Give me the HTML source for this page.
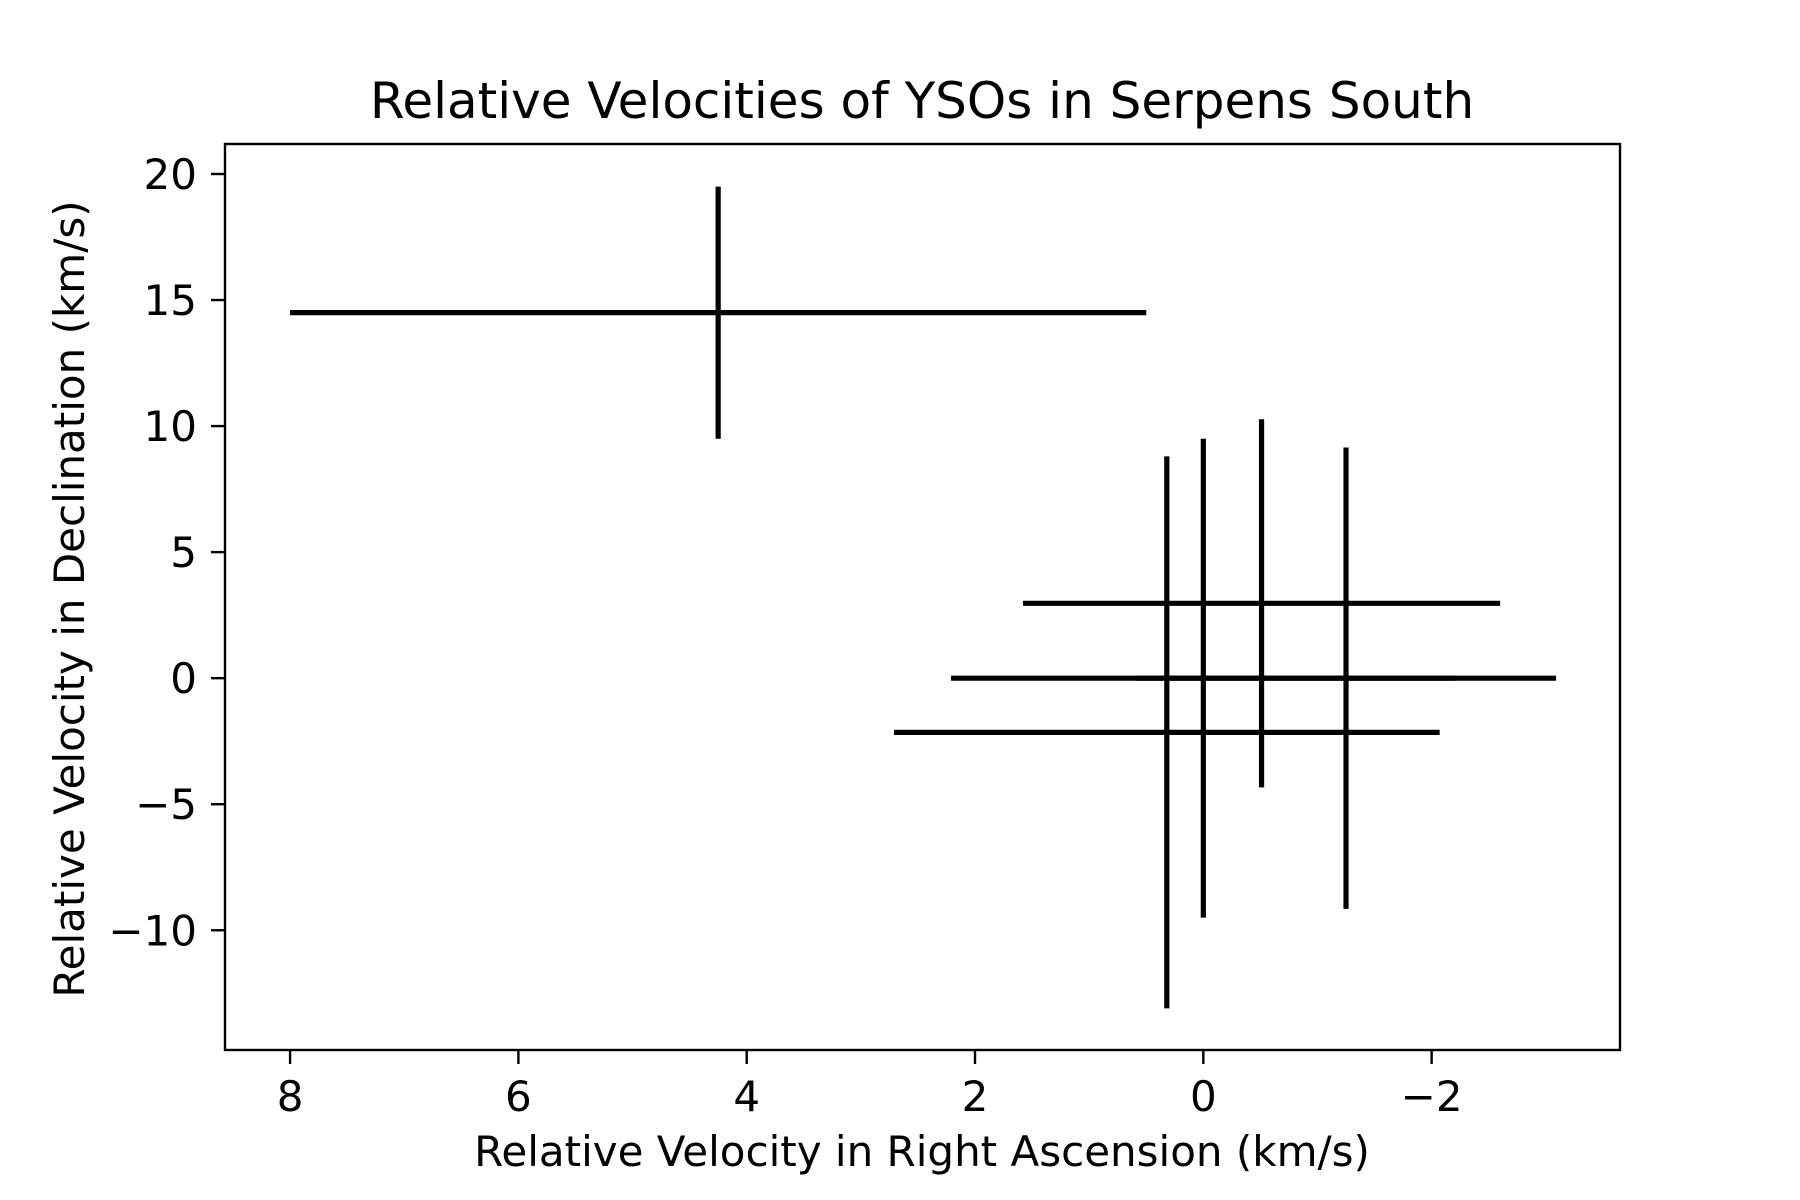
<!DOCTYPE html>
<html><head><meta charset="utf-8"><style>html,body{margin:0;padding:0;background:#fff}svg{display:block}text{font-family:"DejaVu Sans","Liberation Sans",sans-serif;fill:#000}</style></head>
<body>
<svg id="chart" width="1800" height="1200" viewBox="0 0 1800 1200" xmlns="http://www.w3.org/2000/svg">
<rect width="1800" height="1200" fill="#fff"/>
<text x="922" y="118" font-size="50" text-anchor="middle">Relative Velocities of YSOs in Serpens South</text>
<text x="922" y="1166" font-size="42" text-anchor="middle">Relative Velocity in Right Ascension (km/s)</text>
<text x="0" y="0" font-size="42" text-anchor="middle" transform="translate(84,599) rotate(-90)">Relative Velocity in Declination (km/s)</text>
<g id="marks"></g>
<g id="axes"></g>
</svg>
<script>
const xValues = [4.25, 0.32, 0, -0.51, -1.25];
const yValues = [14.5, -2.15, 0, 2.97, 0];
const xErrors = [3.75, 2.39, 2.21, 2.09, 1.84];
const yErrors = [5, 10.95, 9.5, 7.3, 9.15];
const xTicks = [8, 6, 4, 2, 0, -2];
const yTicks = [20, 15, 10, 5, 0, -5, -10];
const tickLabel = v => v < 0 ? '\u2212' + Math.abs(v) : String(v);

const L = 225, R = 1620, T = 144, B = 1050;
const xMin = 8.57, xMax = -3.65, yMin = -14.75, yMax = 21.19;
const sx = v => L + (v - xMin) / (xMax - xMin) * (R - L);
const sy = v => B - (v - yMin) / (yMax - yMin) * (B - T);
const NS = 'http://www.w3.org/2000/svg';
function mk(tag, attrs, parent) {
  const e = document.createElementNS(NS, tag);
  for (const k in attrs) e.setAttribute(k, attrs[k]);
  parent.appendChild(e);
  return e;
}
const marks = document.getElementById('marks');
const axes = document.getElementById('axes');
xValues.forEach((x, i) => {
  const y = yValues[i];
  const h = mk('line', {x1: sx(x - xErrors[i]), x2: sx(x + xErrors[i]), y1: sy(y), y2: sy(y), stroke: '#000', 'stroke-width': 5.2}, marks);
  
  
  const v = mk('line', {x1: sx(x), x2: sx(x), y1: sy(y - yErrors[i]), y2: sy(y + yErrors[i]), stroke: '#000', 'stroke-width': 5.2}, marks);
  
  
});
const frame = mk('rect', {x: L, y: T, width: R - L, height: B - T, fill: 'none', stroke: '#000', 'stroke-width': 2.4}, axes);


xTicks.forEach(t => {
  const tk = mk('line', {x1: sx(t), x2: sx(t), y1: B, y2: B + 14, stroke: '#000', 'stroke-width': 2.4}, axes);
  
  
  const tx = mk('text', {x: sx(t), y: B + 61, 'font-size': 42, 'text-anchor': 'middle'}, axes);
  tx.textContent = tickLabel(t);
  
  
});
yTicks.forEach(t => {
  const tk = mk('line', {x1: L - 14, x2: L, y1: sy(t), y2: sy(t), stroke: '#000', 'stroke-width': 2.4}, axes);
  
  
  const tx = mk('text', {x: L - 28, y: sy(t) + 15, 'font-size': 42, 'text-anchor': 'end'}, axes);
  tx.textContent = tickLabel(t);
  
  
});
</script>
</body></html>
